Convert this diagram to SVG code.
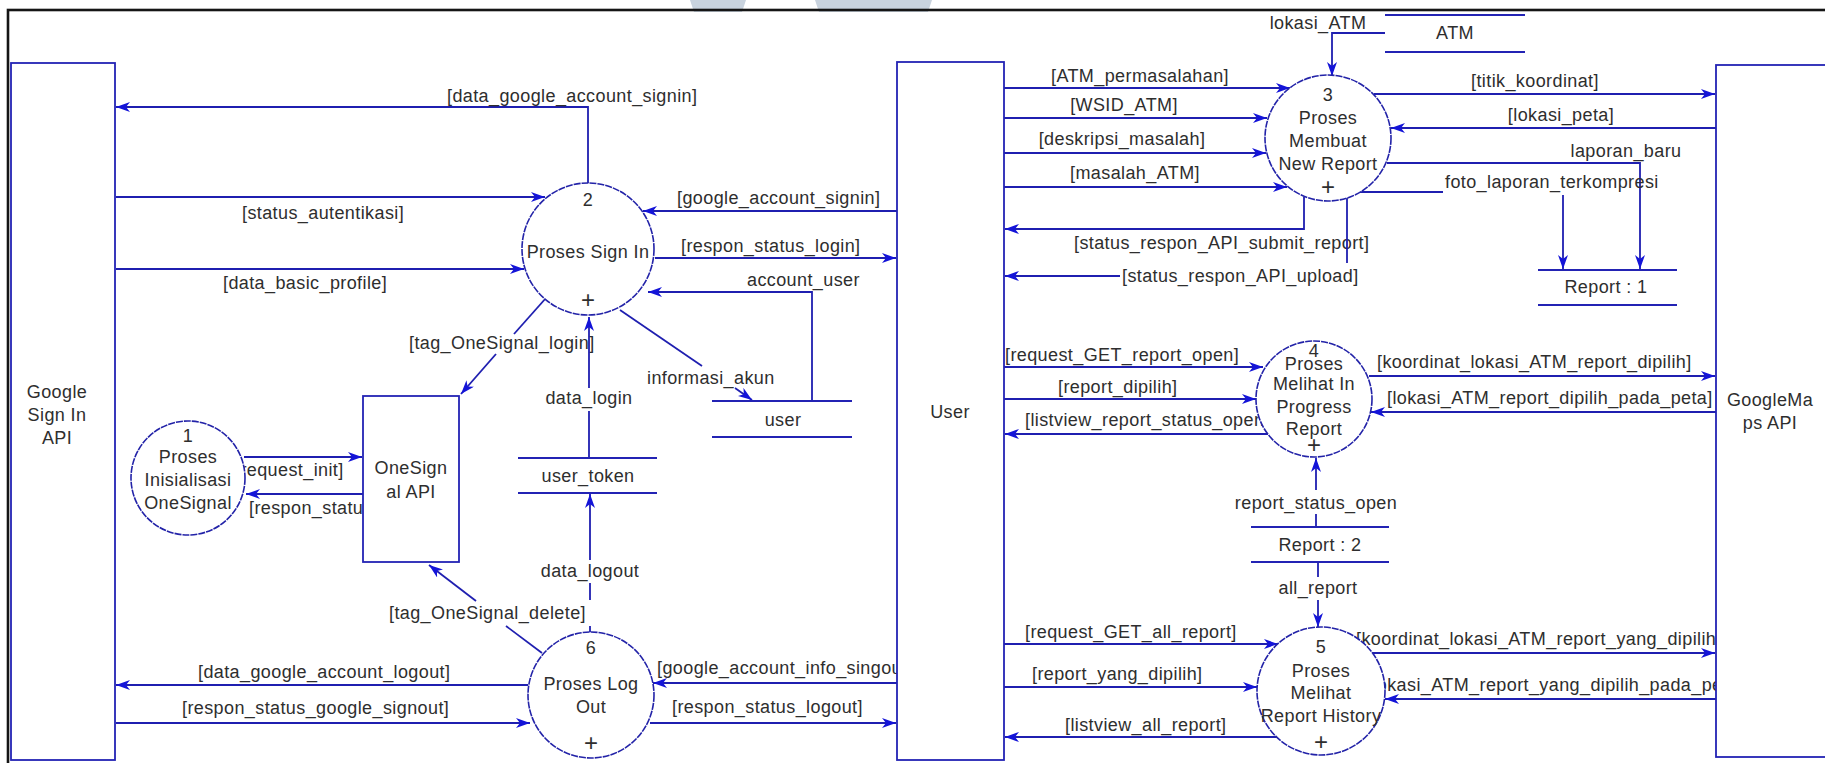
<svg xmlns="http://www.w3.org/2000/svg" width="1825" height="763" viewBox="0 0 1825 763">
<style>
.t{font-family:"Liberation Sans",Arial,sans-serif;font-size:18px;letter-spacing:0.4px;fill:#2e2e2e}
.m{text-anchor:middle}
.c{fill:none;stroke:#1f1fb0;stroke-width:1.8}
.a{fill:none;stroke:#1f1fb0;stroke-width:1.8;marker-end:url(#ah)}
.proc{fill:#fff;stroke:#2323a8;stroke-width:1.6;stroke-dasharray:7 1}
.ent{fill:#fff;stroke:#2323b4;stroke-width:1.8}
.st{fill:none;stroke:#2323b4;stroke-width:1.8}
.plus{font-family:"Liberation Sans",Arial,sans-serif;font-size:24px;fill:#2e2e2e;text-anchor:middle}
</style>
<defs>
<marker id="ah" markerUnits="userSpaceOnUse" viewBox="0 0 14 10" markerWidth="14" markerHeight="10" refX="14" refY="5" orient="auto">
<path d="M0,0 L14,5 L0,10 L4,5 z" fill="#1414d8"/>
</marker>
</defs>
<rect width="1825" height="763" fill="#fff"/>
<g id="watermark">
<polygon points="690,0 746,0 742,12 694,12" fill="#c9d3de"/>
<polygon points="815,0 932,0 928,12 819,12" fill="#c9d3de"/>
</g>
<rect id="frame" x="8" y="10" width="1830" height="800" fill="none" stroke="#151515" stroke-width="2.6"/>

<g id="connectors">
<path class="a" d="M588,183 V107 H116"/>
<text class="t" x="447" y="102">[data_google_account_signin]</text>
<path class="a" d="M116,197 H545"/>
<text class="t" x="242" y="219">[status_autentikasi]</text>
<path class="a" d="M116,269 H524"/>
<text class="t" x="223" y="289">[data_basic_profile]</text>
<path class="a" d="M897,211 H643"/>
<text class="t" x="677" y="204">[google_account_signin]</text>
<path class="a" d="M655,258 H896"/>
<text class="t" x="681" y="252">[respon_status_login]</text>
<path class="a" d="M812,401 V292 H648"/>
<text class="t" x="747" y="286">account_user</text>
<path class="c" d="M620,310 L702,366"/>
<path class="a" d="M735,388 L752,400"/>
<text class="t" x="647" y="384">informasi_akun</text>
<path class="c" d="M546,298 L514,334"/>
<path class="a" d="M496,354 L461,394"/>
<text class="t" x="409" y="349">[tag_OneSignal_login]</text>
<path class="c" d="M589,458 V411"/>
<path class="a" d="M589,388 V317"/>
<text class="t m" x="589" y="404">data_login</text>
<path class="a" d="M244,457 H362"/>
<text class="t" x="235" y="476">[request_init]</text>
<path class="a" d="M363,494 H246"/>
<text class="t" x="249" y="514">[respon_status</text>
<path class="c" d="M542,653 L506,626"/>
<path class="a" d="M476,601 L429,565"/>
<text class="t" x="389" y="619">[tag_OneSignal_delete]</text>
<path class="c" d="M590,632 V626"/>
<path class="c" d="M590,600 V583"/>
<path class="a" d="M590,560 V494"/>
<text class="t m" x="590" y="577">data_logout</text>
<path class="a" d="M528,685 H116"/>
<text class="t" x="198" y="678">[data_google_account_logout]</text>
<path class="a" d="M116,723 H530"/>
<text class="t" x="182" y="714">[respon_status_google_signout]</text>
<path class="a" d="M897,683 H653"/>
<text class="t" x="657" y="674">[google_account_info_singout]</text>
<path class="a" d="M650,723 H896"/>
<text class="t" x="672" y="713">[respon_status_logout]</text>

<path class="a" d="M1004,88 H1290"/>
<text class="t" x="1051" y="82">[ATM_permasalahan]</text>
<path class="a" d="M1004,118 H1267"/>
<text class="t m" x="1124" y="111">[WSID_ATM]</text>
<path class="a" d="M1004,153 H1266"/>
<text class="t m" x="1122" y="145">[deskripsi_masalah]</text>
<path class="a" d="M1004,187 H1287"/>
<text class="t m" x="1135" y="179">[masalah_ATM]</text>
<path class="a" d="M1304,197 V229 H1005"/>
<text class="t" x="1074" y="249">[status_respon_API_submit_report]</text>
<path class="c" d="M1347,198 V263"/>
<path class="a" d="M1120,276 H1005"/>
<text class="t" x="1122" y="282">[status_respon_API_upload]</text>
<path class="a" d="M1385,33 H1332 V76"/>
<text class="t m" x="1318" y="29">lokasi_ATM</text>
<path class="a" d="M1374,94 H1715"/>
<text class="t m" x="1535" y="87">[titik_koordinat]</text>
<path class="a" d="M1716,128 H1391"/>
<text class="t m" x="1561" y="121">[lokasi_peta]</text>
<path class="a" d="M1387,163 H1640 V269"/>
<text class="t m" x="1626" y="157">laporan_baru</text>
<path class="c" d="M1360,192 H1443"/>
<path class="a" d="M1563,195 V269"/>
<text class="t" x="1445" y="188">foto_laporan_terkompresi</text>

<path class="a" d="M1004,367 H1263"/>
<text class="t" x="1005" y="361">[request_GET_report_open]</text>
<path class="a" d="M1004,399 H1256"/>
<text class="t" x="1058" y="393">[report_dipilih]</text>
<path class="a" d="M1268,434 H1005"/>
<text class="t" x="1025" y="426">[listview_report_status_open]</text>
<path class="a" d="M1369,376 H1715"/>
<text class="t" x="1377" y="368">[koordinat_lokasi_ATM_report_dipilih]</text>
<path class="a" d="M1716,412 H1371"/>
<text class="t" x="1387" y="404">[lokasi_ATM_report_dipilih_pada_peta]</text>
<path class="c" d="M1316,527 V514"/>
<path class="a" d="M1316,490 V458"/>
<text class="t m" x="1316" y="509">report_status_open</text>
<path class="c" d="M1318,562 V577"/>
<path class="a" d="M1318,600 V627"/>
<text class="t m" x="1318" y="594">all_report</text>

<path class="a" d="M1004,644 H1278"/>
<text class="t" x="1025" y="638">[request_GET_all_report]</text>
<path class="a" d="M1004,687 H1257"/>
<text class="t" x="1032" y="680">[report_yang_dipilih]</text>
<path class="a" d="M1277,737 H1005"/>
<text class="t" x="1065" y="731">[listview_all_report]</text>
<path class="a" d="M1372,653 H1715"/>
<text class="t" x="1356" y="645">[koordinat_lokasi_ATM_report_yang_dipilih]</text>
<path class="a" d="M1716,699 H1385"/>
<text class="t" x="1367" y="691">[lokasi_ATM_report_yang_dipilih_pada_peta]</text>
</g>

<g id="google-signin-api">
<rect class="ent" x="11" y="63" width="104" height="697"/>
<text class="t m" x="57" y="398">Google</text>
<text class="t m" x="57" y="421">Sign In</text>
<text class="t m" x="57" y="444">API</text>
</g>
<g id="onesignal-api">
<rect class="ent" x="363" y="396" width="96" height="166"/>
<text class="t m" x="411" y="474">OneSign</text>
<text class="t m" x="411" y="498">al API</text>
</g>
<g id="user-entity">
<rect class="ent" x="897" y="62" width="107" height="698"/>
<text class="t m" x="950" y="418">User</text>
</g>
<g id="googlemaps-api">
<rect class="ent" x="1716" y="65" width="130" height="692"/>
<text class="t m" x="1770" y="406">GoogleMa</text>
<text class="t m" x="1770" y="429">ps API</text>
</g>

<g id="proc1">
<circle class="proc" cx="188" cy="478" r="57"/>
<text class="t m" x="188" y="442">1</text>
<text class="t m" x="188" y="463">Proses</text>
<text class="t m" x="188" y="486">Inisialisasi</text>
<text class="t m" x="188" y="509">OneSignal</text>
</g>
<g id="proc2">
<circle class="proc" cx="588" cy="249" r="66"/>
<text class="t m" x="588" y="206">2</text>
<text class="t m" x="588" y="258">Proses Sign In</text>
<text class="plus" x="588" y="308">+</text>
</g>
<g id="proc3">
<circle class="proc" cx="1328" cy="138" r="63"/>
<text class="t m" x="1328" y="101">3</text>
<text class="t m" x="1328" y="124">Proses</text>
<text class="t m" x="1328" y="147">Membuat</text>
<text class="t m" x="1328" y="170">New Report</text>
<text class="plus" x="1328" y="195">+</text>
</g>
<g id="proc4">
<circle class="proc" cx="1314" cy="399" r="58"/>
<text class="t m" x="1314" y="357">4</text>
<text class="t m" x="1314" y="370">Proses</text>
<text class="t m" x="1314" y="390">Melihat In</text>
<text class="t m" x="1314" y="413">Progress</text>
<text class="t m" x="1314" y="435">Report</text>
<text class="plus" x="1314" y="453">+</text>
</g>
<g id="proc5">
<circle class="proc" cx="1321" cy="691" r="64"/>
<text class="t m" x="1321" y="653">5</text>
<text class="t m" x="1321" y="677">Proses</text>
<text class="t m" x="1321" y="699">Melihat</text>
<text class="t m" x="1321" y="722">Report History</text>
<text class="plus" x="1321" y="750">+</text>
</g>
<g id="proc6">
<circle class="proc" cx="591" cy="695" r="63"/>
<text class="t m" x="591" y="654">6</text>
<text class="t m" x="591" y="690">Proses Log</text>
<text class="t m" x="591" y="713">Out</text>
<text class="plus" x="591" y="751">+</text>
</g>

<g id="store-user">
<path class="st" d="M712,401 H852 M712,437 H852"/>
<text class="t m" x="783" y="426">user</text>
</g>
<g id="store-user-token">
<path class="st" d="M518,458 H657 M518,493 H657"/>
<text class="t m" x="588" y="482">user_token</text>
</g>
<g id="store-atm">
<path class="st" d="M1385,15 H1525 M1385,52 H1525"/>
<text class="t m" x="1455" y="39">ATM</text>
</g>
<g id="store-report1">
<path class="st" d="M1538,270 H1677 M1538,305 H1677"/>
<text class="t m" x="1606" y="293">Report : 1</text>
</g>
<g id="store-report2">
<path class="st" d="M1251,527 H1389 M1251,562 H1389"/>
<text class="t m" x="1320" y="551">Report : 2</text>
</g>
</svg>
